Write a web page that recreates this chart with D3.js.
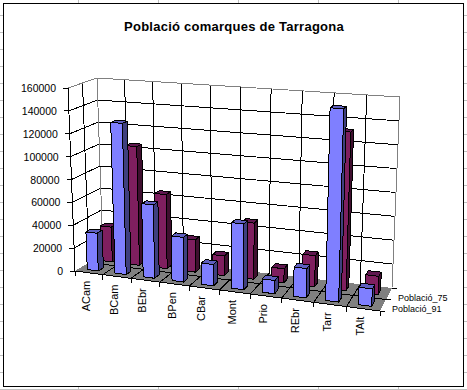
<!DOCTYPE html>
<html>
<head>
<meta charset="utf-8">
<script src="https://cdnjs.cloudflare.com/ajax/libs/d3/7.8.5/d3.min.js"></script>
<style>
body { margin:0; background:#fff; }
text { font-family:"Liberation Sans", Arial, sans-serif; fill:#000; }
</style>
</head>
<body>
<div id="chart"></div>
<script>
var categories = ["ACam","BCam","BEbr","BPen","CBar","Mont","Prio","REbr","Tarr","TAlt"];
var seriesNames = ["Població_75","Població_91"];
var values75 = [31000,105000,65000,28000,17000,48000,12000,26000,132000,15000];
var values91 = [33000,131000,63000,38000,18000,55000,11000,24000,157000,14000];
var yTicks = [0,20000,40000,60000,80000,100000,120000,140000,160000];
var title = "Població comarques de Tarragona";

var w = 467, h = 390;

// corners of the 3d box, in pixels: [u][d] on floor and on top
var floor = { fl:[75,271], fr:[380,311], bl:[103,254], br:[392,288] };
var roof  = { fl:[68,88],  fr:[387,110], bl:[97,78],   br:[400,97] };
var persp = 0.9; // categories get wider towards the right

function lerp(a,b,t) { return [a[0]+(b[0]-a[0])*t, a[1]+(b[1]-a[1])*t]; }

function plane(p,u,d) {
    return lerp(lerp(p.fl,p.fr,u), lerp(p.bl,p.br,u), d);
}

// u: along categories, d: depth, v: height, all 0..1
function project(u,d,v) {
    var uw = persp*u / (1 + (persp-1)*u);
    return lerp(plane(floor,uw,d), plane(roof,uw,d), v);
}

var xScale = d3.scaleBand()
    .domain(categories)
    .range([0,1])
    .paddingInner(0.6)
    .paddingOuter(0.3);

var xStep = d3.scaleLinear().domain([0,categories.length]).range([0,1]);

var zScale = d3.scaleBand()
    .domain(["Població_91","Població_75"])
    .range([0,1])
    .paddingInner(0.64)
    .paddingOuter(0.28);

var yScale = d3.scaleLinear().domain([0,160000]).range([0,1]);

var path = d3.line();
function poly(pts) { return path(pts) + "Z"; }

var svg = d3.select("#chart")
    .append("svg")
    .attr("width",w)
    .attr("height",h)
    .style("display","block");

//---------- Sheet gridlines behind the chart
var sheet = svg.append("g").attr("stroke","#c0c0c0").attr("shape-rendering","crispEdges");
d3.range(15,390,17).forEach(function(y) {
    sheet.append("line").attr("x1",0).attr("x2",w).attr("y1",y+0.5).attr("y2",y+0.5);
});
[78,158,238,318,398].forEach(function(x) {
    sheet.append("line").attr("x1",x+0.5).attr("x2",x+0.5).attr("y1",0).attr("y2",h);
});

svg.append("rect")
    .attr("x",3.5).attr("y",3.5)
    .attr("width",460).attr("height",383)
    .attr("fill","#fff")
    .attr("stroke","#000")
    .attr("shape-rendering","crispEdges");

svg.append("text")
    .attr("x",234)
    .attr("y",31)
    .attr("text-anchor","middle")
    .attr("font-size",13)
    .attr("font-weight","bold")
    .style("letter-spacing","0.25px")
    .text(title);

var g = svg.append("g").attr("shape-rendering","crispEdges");

function segment(a,b,color) {
    g.append("line")
        .attr("x1",a[0]).attr("y1",a[1])
        .attr("x2",b[0]).attr("y2",b[1])
        .attr("stroke",color);
}

//---------- Floor
g.append("path")
    .attr("d",poly([project(0,0,0),project(1,0,0),project(1,1,0),project(0,1,0)]))
    .attr("fill","#808080")
    .attr("stroke","#000")
    .attr("stroke-width",0);

//---------- Walls gridlines
yTicks.forEach(function(t) {
    var v = yScale(t);
    if (t > 0 && t < 160000) {
        segment(project(0,0,v),project(0,1,v),"#000");
        segment(project(0,1,v),project(1,1,v),"#000");
    }
});

d3.range(1,categories.length).forEach(function(i) {
    segment(project(xStep(i),1,0),project(xStep(i),1,1),"#000");
    segment(project(xStep(i),0,0),project(xStep(i),1,0),"#000");
});

segment(project(0,0.5,0),project(0,0.5,1),"#000");
segment(project(0,0.5,0),project(1,0.5,0),"#000");

// wall outline
segment(project(0,0,1),project(0,1,1),"#808080");
segment(project(0,1,1),project(1,1,1),"#808080");
segment(project(0,1,0),project(0,1,1),"#808080");
segment(project(1,1,0),project(1,1,1),"#808080");

//---------- Value axis
segment(project(0,0,0),project(0,0,1),"#000");
segment(project(0,0,0),project(1,0,0),"#000");

yTicks.forEach(function(t) {
    var p = project(0,0,yScale(t));
    segment([p[0]-5,p[1]],p,"#000");
    svg.append("text")
        .attr("x",p[0]-12)
        .attr("y",p[1]+4)
        .attr("text-anchor","end")
        .attr("font-size",10.5)
        .text(t);
});

//---------- Category axis
d3.range(0,categories.length+1).forEach(function(i) {
    var p = project(xStep(i),0,0);
    segment(p,[p[0],p[1]+5],"#000");
});

categories.forEach(function(c,i) {
    var p = project(xStep(i+0.5),0,0);
    svg.append("text")
        .attr("transform","translate(" + (p[0]+1) + "," + (p[1]+8) + ") rotate(-90)")
        .attr("text-anchor","end")
        .attr("font-size",11)
        .text(c);
});

//---------- Series axis
[0,0.5,1].forEach(function(d) {
    var p = project(1,d,0);
    segment(p,[p[0]+5,p[1]],"#000");
});

[["Població_91",0.25],["Població_75",0.75]].forEach(function(s) {
    var p = project(1,s[1],0);
    svg.append("text")
        .attr("x",p[0]+9)
        .attr("y",p[1]+7)
        .attr("font-size",9)
        .text(s[0]);
});

//---------- Bars
var colors = {
    "Població_91": { front:"#7f7fff", side:"#3f3f7f", top:"#5f5fbf" },
    "Població_75": { front:"#7f1f5f", side:"#3f0f2f", top:"#5f174f" }
};

function drawBars(name,vals) {
    var col = colors[name];
    var d0 = zScale(name), d1 = d0 + zScale.bandwidth();

    var bars = svg.append("g")
        .attr("class","bars")
        .attr("shape-rendering","crispEdges")
        .selectAll("g")
        .data(vals)
        .enter().append("g")
        .attr("stroke","#000")
        .attr("stroke-linejoin","round");

    bars.append("path")
        .attr("fill",col.top)
        .attr("d",function(d,i) {
            var u0 = xScale(categories[i]), u1 = u0 + xScale.bandwidth(), v = yScale(d);
            return poly([project(u0,d0,v),project(u1,d0,v),project(u1,d1,v),project(u0,d1,v)]);
        });

    bars.append("path")
        .attr("fill",col.side)
        .attr("d",function(d,i) {
            var u1 = xScale(categories[i]) + xScale.bandwidth(), v = yScale(d);
            return poly([project(u1,d0,0),project(u1,d1,0),project(u1,d1,v),project(u1,d0,v)]);
        });

    bars.append("path")
        .attr("fill",col.front)
        .attr("d",function(d,i) {
            var u0 = xScale(categories[i]), u1 = u0 + xScale.bandwidth(), v = yScale(d);
            return poly([project(u0,d0,0),project(u1,d0,0),project(u1,d0,v),project(u0,d0,v)]);
        });
}

drawBars("Població_75",values75);
drawBars("Població_91",values91);
</script>
</body>
</html>
